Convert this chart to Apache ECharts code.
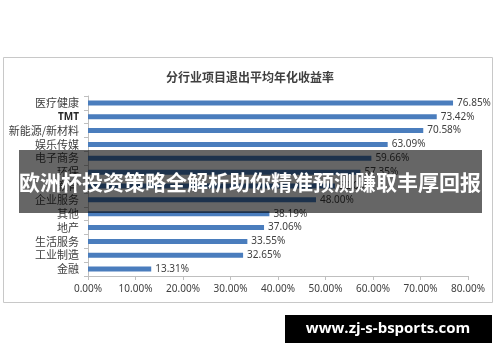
<!DOCTYPE html>
<html><head><meta charset="utf-8">
<script src="https://cdn.jsdelivr.net/npm/echarts@6/dist/echarts.min.js"></script>
<style>html,body{margin:0;padding:0;background:#fff}#c{width:500px;height:362px}</style>
</head><body><div id="c"></div>
<script>
const categories = ['医疗健康','TMT','新能源/新材料','娱乐传媒','电子商务','环保','教育','企业服务','其他','地产','生活服务','工业制造','金融'];
const values = [76.85,73.42,70.58,63.09,59.66,57.35,52.00,48.00,38.19,37.06,33.55,32.65,13.31];
const xTicks = [0,10,20,30,40,50,60,70,80];
const titleText = '分行业项目退出平均年化收益率';
const bannerText = '欧洲杯投资策略全解析助你精准预测赚取丰厚回报';
const watermarkText = 'www.zj-s-bsports.com';

const chart = echarts.init(document.getElementById('c'));
chart.setOption({
  animation:false,
  backgroundColor:'#fff',
  title:{text:titleText,left:'center',top:66,textStyle:{fontSize:12,fontWeight:'bold',color:'#404040',fontFamily:'Noto Sans CJK SC'}},
  grid:{left:88,right:32,top:96,bottom:86},
  xAxis:{type:'value',min:xTicks[0],max:xTicks[xTicks.length-1],interval:10,
    axisLine:{show:true,lineStyle:{color:'#bfbfbf'}},
    axisTick:{show:true,length:4,lineStyle:{color:'#bfbfbf'}},
    splitLine:{show:false},
    axisLabel:{formatter:v=>v.toFixed(2)+'%',color:'#404040',fontSize:10,margin:8,fontFamily:'Noto Sans'}},
  yAxis:{type:'category',data:categories,inverse:true,
    axisLine:{show:true,lineStyle:{color:'#bfbfbf'}},
    axisTick:{show:true,length:4,interval:0,lineStyle:{color:'#bfbfbf'}},
    axisLabel:{interval:0,color:'#404040',fontSize:11,margin:9,fontFamily:'Noto Sans CJK SC',
      formatter:v=>v==='TMT'?'{b|TMT}':v,rich:{b:{fontWeight:'bold',fontSize:10,color:'#262626',fontFamily:'Noto Sans'}}}},
  series:[{type:'bar',data:values,barWidth:5,itemStyle:{color:'#4a7dbd'},
    label:{show:true,position:'right',distance:4,color:'#404040',fontSize:10,fontFamily:'Noto Sans',formatter:p=>p.value.toFixed(2)+'%'}}],
  graphic:[
    {type:'rect',z:1,silent:true,shape:{x:3.5,y:57.5,width:489,height:245},style:{fill:'none',stroke:'#c8c8c8',lineWidth:1}},
    {type:'rect',z:100,shape:{x:19,y:150,width:463,height:63},style:{fill:'rgba(0,0,0,0.6)'}},
    {type:'text',z:101,x:250,y:182,style:{text:bannerText,fill:'#fff',fontSize:21,fontWeight:'bold',fontFamily:'Noto Sans CJK SC',align:'center',verticalAlign:'middle'}},
    {type:'rect',z:100,shape:{x:285,y:315,width:207,height:28},style:{fill:'#000'}},
    {type:'text',z:101,x:388,y:329,style:{text:watermarkText,fill:'#fff',fontSize:15,fontWeight:'bold',fontFamily:'Open Sans',align:'center',verticalAlign:'middle'}}
  ]
});
</script></body></html>
